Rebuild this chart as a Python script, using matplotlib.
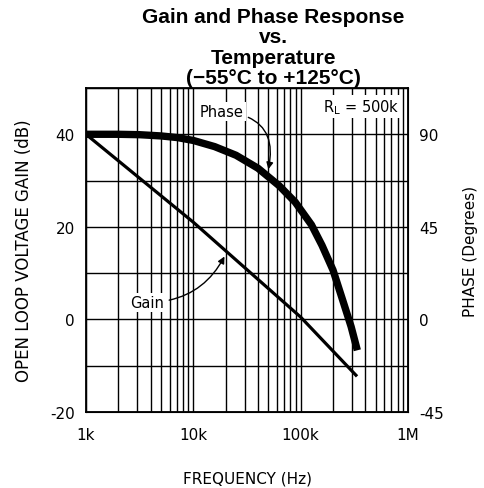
import matplotlib.pyplot as plt
from matplotlib.ticker import FixedLocator, NullFormatter

# values
freq_gain = [1e3, 1e4, 1e5, 3.35e5]
gain_db = [40, 21, 0.5, -12.3]

freq_phase = [1e3, 2e3, 3.16e3, 5e3, 7.1e3, 1e4, 1.58e4, 2.5e4, 4e4, 6.3e4,
              8.9e4, 1.26e5, 1.58e5, 2e5, 2.51e5, 2.95e5, 3.37e5]
phase_deg = [90, 90, 89.8, 89.2, 88.4, 87, 84, 79.8, 73.5, 65,
             57, 46, 36, 24, 8, -3.5, -15]

x_ticks = [1e3, 1e4, 1e5, 1e6]
x_labels = ["1k", "10k", "100k", "1M"]
gain_ticks = [-20, 0, 20, 40]
phase_ticks = [-45, 0, 45, 90]

lab_font = ["DejaVu Sans"]

fig = plt.figure(figsize=(4.85, 4.89), dpi=100)
ax = fig.add_axes([0.1773, 0.1554, 0.664, 0.6626])

ax.set_xscale("log")
ax.set_xlim(1e3, 1e6)
ax.set_ylim(-20, 50)

# grid
minor = [m * 10 ** d for d in range(3, 6) for m in range(2, 10)]
ax.xaxis.set_minor_locator(FixedLocator(minor))
ax.xaxis.set_minor_formatter(NullFormatter())
ax.set_xticks(x_ticks)
ax.set_xticklabels(x_labels, family=lab_font, fontsize=11)
ax.set_yticks(gain_ticks)
ax.set_yticklabels([str(v) for v in gain_ticks], family=lab_font, fontsize=11)
ax.yaxis.set_minor_locator(FixedLocator(range(-20, 51, 10)))
ax.grid(True, which="both", color="black", linewidth=1.0)
ax.tick_params(which="both", length=0, pad=8)
ax.tick_params(axis="x", pad=11)
for s in ax.spines.values():
    s.set_linewidth(1.3)

ax.plot(freq_gain, gain_db, color="black", linewidth=2.3, solid_capstyle="butt", zorder=3)

ax2 = ax.twinx()
ax2.set_ylim(-45, 112.5)
ax2.set_yticks(phase_ticks)
ax2.set_yticklabels([str(v) for v in phase_ticks], family=lab_font, fontsize=11)
ax2.tick_params(length=0, pad=8)
ax2.plot(freq_phase, phase_deg, color="black", linewidth=5.3, solid_capstyle="butt",
         solid_joinstyle="round", zorder=3)

ax.set_xlabel("FREQUENCY (Hz)", family=lab_font, fontsize=11, labelpad=20)
ax.set_ylabel("OPEN LOOP VOLTAGE GAIN (dB)", family=lab_font, fontsize=12, labelpad=12)
ax2.set_ylabel("PHASE (Degrees)", family=lab_font, fontsize=11, labelpad=14)

box = dict(facecolor="white", edgecolor="none", pad=1.5)
ax2.annotate("Phase", xy=(4.9e4, 71), xytext=(1.15e4, 101), family=lab_font, fontsize=10.5,
             ha="left", va="center", bbox=box,
             arrowprops=dict(arrowstyle="-|>", color="black", lw=1.0, shrinkA=2, shrinkB=3,
                             connectionstyle="arc3,rad=-0.6", mutation_scale=10))
ax.annotate("Gain", xy=(1.95e4, 13.6), xytext=(2.6e3, 3.7), family=lab_font, fontsize=10.5,
            ha="left", va="center", bbox=box,
            arrowprops=dict(arrowstyle="-|>", color="black", lw=1.0, shrinkA=2, shrinkB=0,
                            connectionstyle="arc3,rad=0.3", mutation_scale=10))
ax.text(1.6e5, 46, r"R$_{\rm L}$ = 500k", family=lab_font, fontsize=10.5,
        ha="left", va="center", bbox=box, zorder=4)

fig.text(0.564, 0.984, "Gain and Phase Response\nvs.\nTemperature\n(\u221255\u00b0C to +125\u00b0C)",
         ha="center", va="top", family="Liberation Sans", fontweight="bold",
         fontsize=15, linespacing=1.1)

fig.savefig("out.png", dpi=100)
